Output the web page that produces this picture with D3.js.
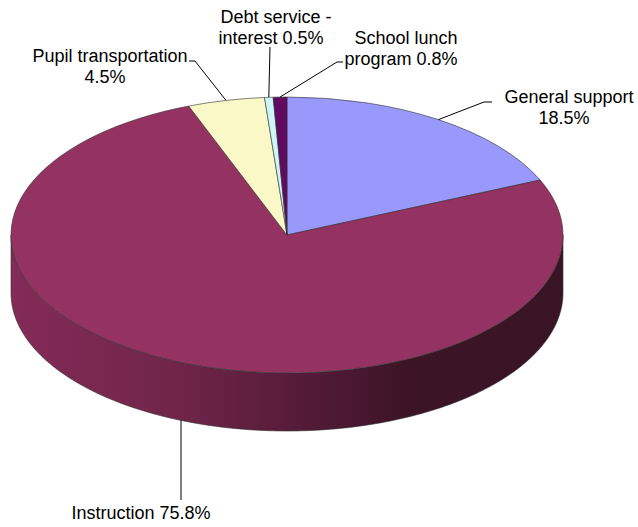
<!DOCTYPE html>
<html>
<head>
<meta charset="utf-8">
<script src="https://cdn.jsdelivr.net/npm/d3@7"></script>
<style>
  html, body { margin: 0; padding: 0; background: #fff; }
  svg { display: block; }
  text { font-family: "Liberation Sans", Arial, sans-serif; font-size: 18px; fill: #000; }
</style>
</head>
<body>
<svg id="chart" width="638" height="527"></svg>
<script>
// Spending shares, clockwise from twelve o'clock
const categories = ["General support", "Instruction", "Pupil transportation", "Debt service - interest", "School lunch program"];
const shares = [18.5, 75.8, 4.5, 0.5, 0.8];
const colors = ["#9999fb", "#943361", "#fbf8c8", "#ccf6f8", "#620a62"];
const labelLines = [
  ["General support", "18.5%"],
  ["Instruction 75.8%"],
  ["Pupil transportation", "4.5%"],
  ["Debt service -", "interest 0.5%"],
  ["School lunch", "program 0.8%"]
];

const svg = d3.select("#chart");
const cx = 287, cy = 235, rx = 276, ry = 138, depth = 58;

const pie = d3.pie().sort(null).value(d => d).startAngle(0).endAngle(2 * Math.PI);
const slices = pie(shares);

// Tilted disc: a point at pie angle a on the rim of the ellipse
const rimX = a => cx + rx * Math.sin(a);
const rimY = a => cy - ry * Math.cos(a);

// Wall shading runs from the lit left edge to the shadowed right side
const defs = svg.append("defs");
const wallGrad = defs.append("linearGradient")
  .attr("id", "wallShade")
  .attr("gradientUnits", "userSpaceOnUse")
  .attr("x1", cx - rx).attr("x2", cx + rx).attr("y1", 0).attr("y2", 0);
[[0, "#842b58"], [0.3, "#702549"], [0.55, "#521a36"], [0.72, "#3c1426"], [1, "#391424"]]
  .forEach(([o, c]) => wallGrad.append("stop").attr("offset", o).attr("stop-color", c));

// Front wall of the disc, visible for the lower half of the ellipse
const wallAngles = d3.range(Math.PI / 2, 3 * Math.PI / 2 + 0.001, Math.PI / 180);
const wallArea = d3.area()
  .x(a => rimX(a))
  .y0(a => rimY(a))
  .y1(a => rimY(a) + depth);
svg.append("path")
  .attr("d", wallArea(wallAngles))
  .attr("fill", "url(#wallShade)")
  .attr("stroke", "#333")
  .attr("stroke-width", 0.6);

// Top face: circular arcs squashed into the ellipse
const arc = d3.arc().innerRadius(0).outerRadius(rx);
svg.append("g")
  .attr("transform", `translate(${cx},${cy}) scale(1,${ry / rx})`)
  .selectAll("path")
  .data(slices)
  .join("path")
  .attr("d", arc)
  .attr("fill", (d, i) => colors[i])
  .attr("stroke", "#333")
  .attr("stroke-width", 0.6)
  .attr("vector-effect", "non-scaling-stroke");

// Leader lines start at each slice's rim midpoint and end near its label
const mid = d => (d.startAngle + d.endAngle) / 2;
const leaderTargets = [
  [[484, 102], [492, 102]],
  [[181, 500]],
  [[195, 61], [189, 61]],
  [[270, 47]],
  [[337, 62], [343, 62]]
];
const line = d3.line();
svg.append("g")
  .selectAll("path")
  .data(slices)
  .join("path")
  .attr("d", (d, i) => {
    const a = mid(d);
    const wallDrop = Math.cos(a) < 0 ? depth : 0;
    const target = leaderTargets[i];
    const startX = i === 1 ? target[0][0] : rimX(a);
    return line([[startX, rimY(a) + wallDrop], ...target]);
  })
  .attr("fill", "none")
  .attr("stroke", "#000")
  .attr("stroke-width", 1);

// Category labels, one text block per slice; second lines sit a space-width left
const labelAnchors = [[569, 103], [141, 519], [110, 62], [276, 23], [406, 44]];
const lineHeight = 21;
const secondLineShift = -5;
svg.append("g")
  .selectAll("text")
  .data(labelLines)
  .join("text")
  .attr("text-anchor", "middle")
  .attr("transform", (d, i) => `translate(${labelAnchors[i][0]},${labelAnchors[i][1]})`)
  .selectAll("tspan")
  .data(d => d)
  .join("tspan")
  .attr("x", (d, i) => i * secondLineShift)
  .attr("y", (d, i) => i * lineHeight)
  .text(d => d);
</script>
</body>
</html>
